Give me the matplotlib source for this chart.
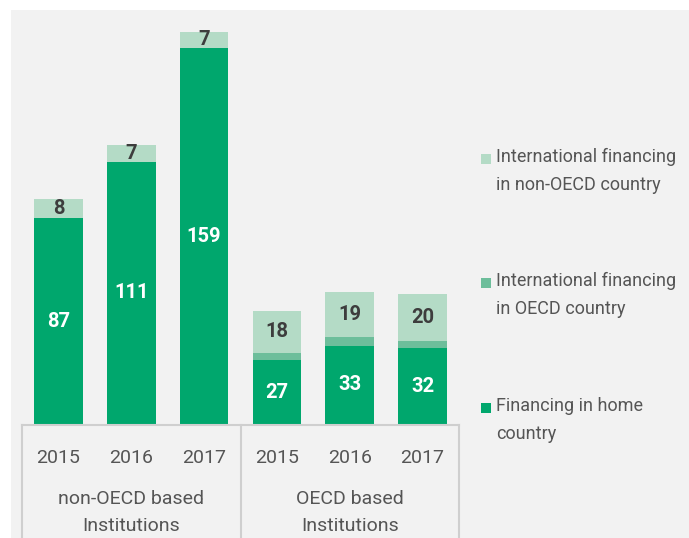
import matplotlib.pyplot as plt
from matplotlib.patches import Rectangle

plt.rcParams['font.family'] = ['Roboto', 'DejaVu Sans']

years = ['2015', '2016', '2017', '2015', '2016', '2017']
groups = ['non-OECD based\nInstitutions', 'OECD based\nInstitutions']
home = [87, 111, 159, 27, 33, 32]
intl_oecd = [0, 0, 0, 3, 4, 3]
intl_non_oecd = [8, 7, 7, 18, 19, 20]

c_home = '#00a76d'
c_oecd = '#6dbe9b'
c_non = '#b4dbc6'
bg = '#f2f2f2'
txt = '#555555'

fig = plt.figure(figsize=(6.89, 5.38), dpi=100)
fig.patch.set_facecolor('white')
# grey panel (image has a thin white margin at left/top)
fig.add_artist(Rectangle((11 / 689, 0), 1, 1 - 10 / 538, transform=fig.transFigure,
                         facecolor=bg, edgecolor='none', zorder=0))

ax = fig.add_axes([22 / 689, 1 - 424 / 538, 437 / 689, 422 / 538])
ax.set_facecolor('none')

x = list(range(len(years)))
w = 0.67
ax.bar(x, home, w, color=c_home)
bottom2 = [h for h in home]
ax.bar(x, intl_oecd, w, bottom=bottom2, color=c_oecd)
bottom3 = [h + o for h, o in zip(home, intl_oecd)]
ax.bar(x, intl_non_oecd, w, bottom=bottom3, color=c_non)

for i in x:
    ax.text(i, home[i] / 2, str(home[i]), ha='center', va='center',
            color='white', fontsize=14.5, fontweight='bold')
    ax.text(i, bottom3[i] + intl_non_oecd[i] / 2, str(intl_non_oecd[i]),
            ha='center', va='center', color='#3d3d3d', fontsize=14.5, fontweight='bold')

ax.set_xlim(-0.5, 5.5)
ax.set_ylim(0, 178.5)
for s in ax.spines.values():
    s.set_visible(False)
ax.set_yticks([])
ax.set_xticks(x)
ax.set_xticklabels(years, fontsize=14, color=txt)
ax.tick_params(axis='x', length=0, pad=18)

# category box lines
tr = ax.get_xaxis_transform()
line_c = '#cfcfcf'
ax.plot([-0.5, 5.5], [-0.002, -0.002], transform=tr, color=line_c, lw=1.5, clip_on=False)
for xv in [-0.5, 2.5, 5.5]:
    ax.plot([xv, xv], [-0.002, -0.4], transform=tr, color=line_c, lw=1.5, clip_on=False)
for gx, g in zip([1, 4], groups):
    ax.text(gx, -0.21, g, transform=tr, ha='center', va='center',
            fontsize=14, color=txt, linespacing=1.65)

# legend, drawn manually as squares + text
leg_items = [(c_non, 'International financing\nin non-OECD country', 171),
             (c_oecd, 'International financing\nin OECD country', 295),
             (c_home, 'Financing in home\ncountry', 420)]
for col, lab, ypix in leg_items:
    fig.add_artist(Rectangle((481 / 689, 1 - (ypix - 7) / 538), 10 / 689, 10 / 538,
                             transform=fig.transFigure, facecolor=col, edgecolor='none'))
    fig.text(496 / 689, 1 - ypix / 538, lab, fontsize=13, color=txt,
             va='center', ha='left', linespacing=1.65)

fig.savefig('out.png', dpi=100, facecolor=fig.get_facecolor())
